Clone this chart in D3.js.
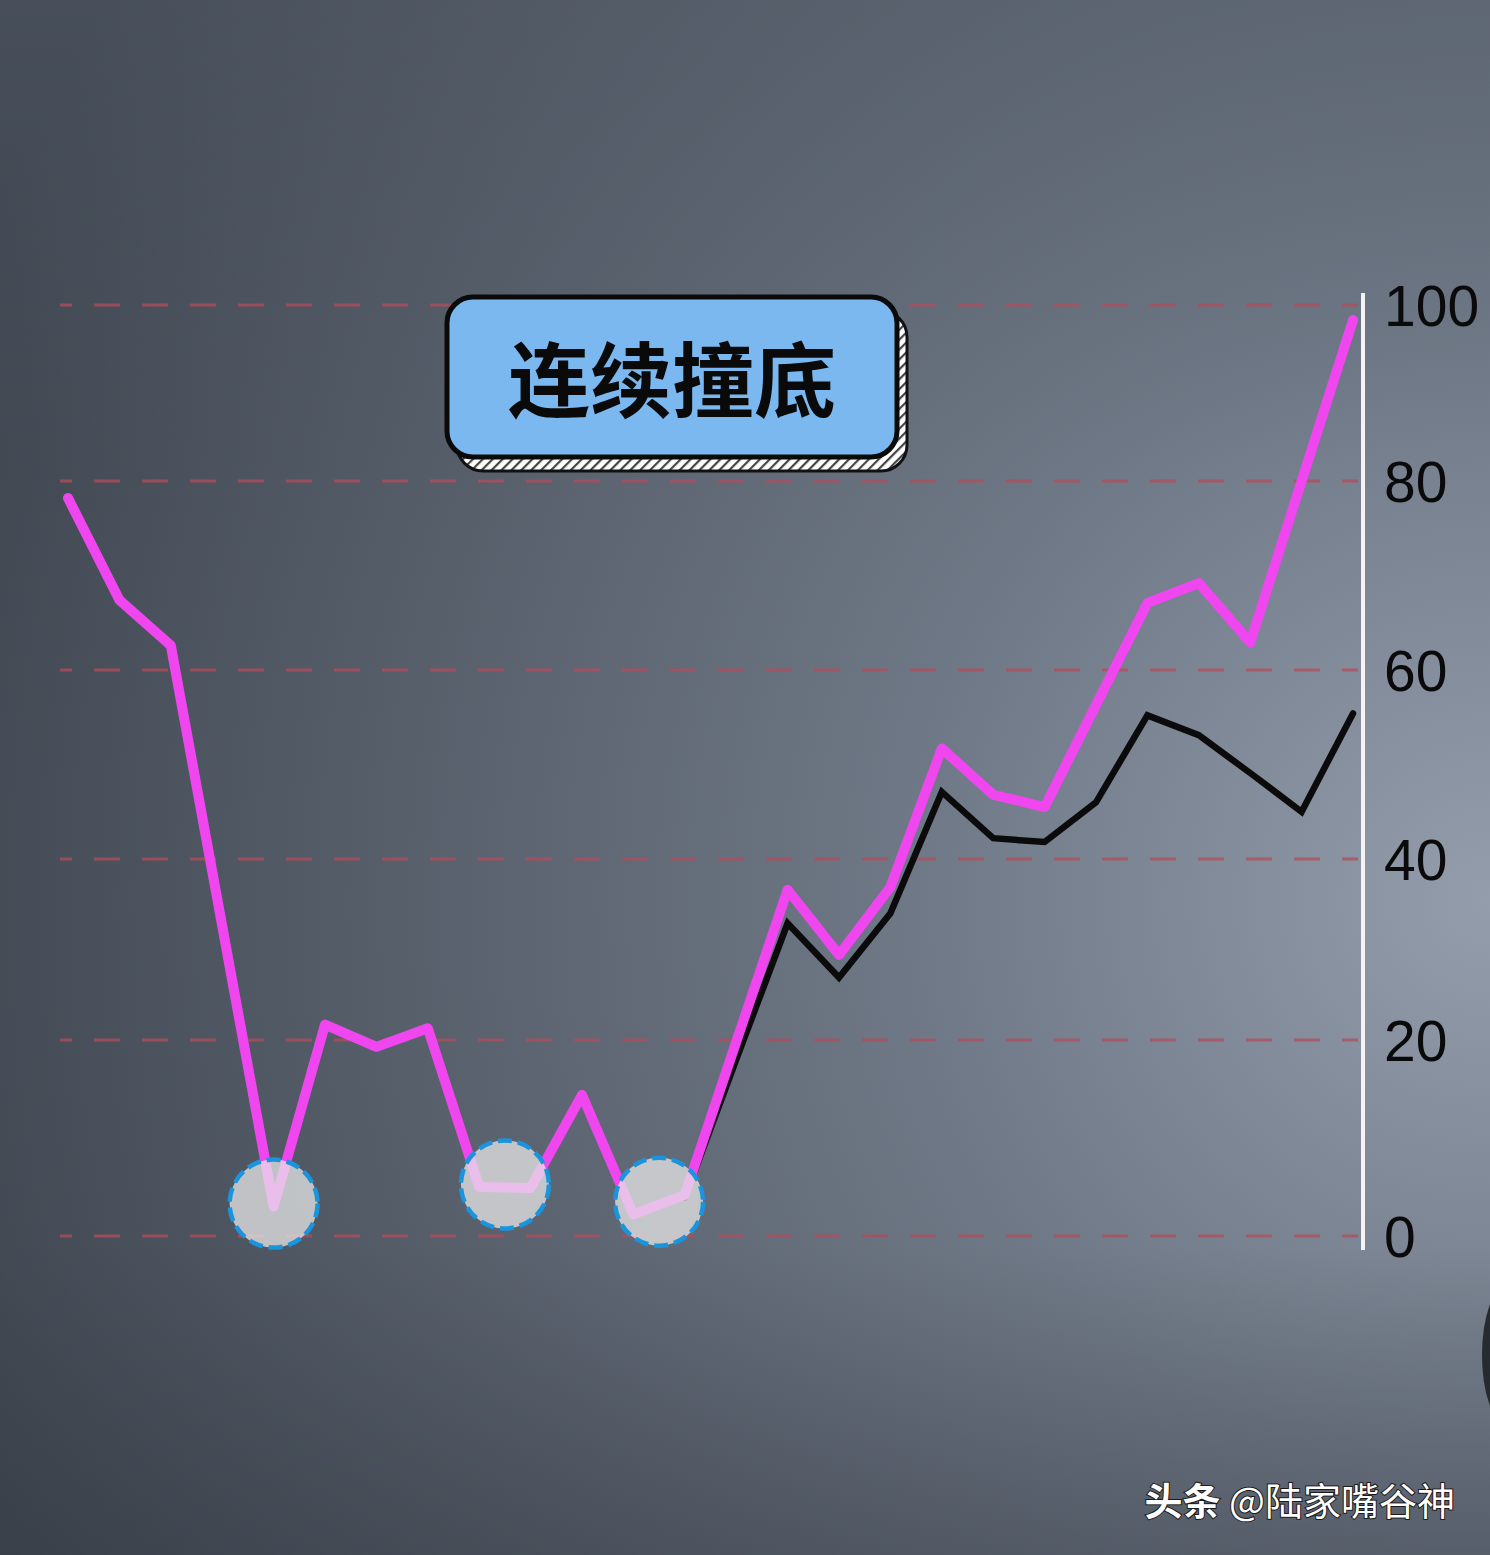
<!DOCTYPE html>
<html>
<head>
<meta charset="utf-8">
<script src="https://cdn.jsdelivr.net/npm/d3@7/dist/d3.min.js"></script>
<style>
  html, body { margin: 0; padding: 0; background: #4a525d; }
  svg { display: block; }
</style>
</head>
<body>
<div id="chart"></div>
<script>
// ---------- data ----------
const titleText = "连续撞底";
const watermarkBold = "头条";
const watermarkText = " @陆家嘴谷神";
const yTicks = [0, 20, 40, 60, 80, 100];
const dayIndex = d3.range(26);
// pink series (index 0..25)
const pinkValues = [78.2, 67.4, 62.6, 32.6, 3.0, 21.7, 19.3, 21.3, 5.0, 4.9, 14.4, 2.2, 4.2,
                    19.8, 36.6, 29.4, 36.9, 51.7, 46.8, 45.5, 56.3, 67.1, 69.2, 62.9, 80.0, 98.3];
// black series starts at index 12
const blackStart = 12;
const blackValues = [3.9, 18.0, 32.9, 26.9, 34.0, 47.1, 42.2, 41.8, 46.0, 55.2, 53.1, 49.1, 45.0, 55.4];
// highlighted bottoms (index ranges)
const bottoms = [[4, 4], [8, 9], [11, 12]];

// ---------- setup ----------
const W = 1490, H = 1555;
const svg = d3.select("#chart").append("svg").attr("width", W).attr("height", H);
const defs = svg.append("defs");

const bg = defs.append("radialGradient").attr("id", "bg")
  .attr("gradientUnits", "userSpaceOnUse")
  .attr("cx", 1490).attr("cy", 900).attr("r", 1650);
bg.append("stop").attr("offset", "0").attr("stop-color", "#939dab");
bg.append("stop").attr("offset", "0.35").attr("stop-color", "#6f7886");
bg.append("stop").attr("offset", "0.75").attr("stop-color", "#505863");
bg.append("stop").attr("offset", "1").attr("stop-color", "#3d444e");
svg.append("rect").attr("width", W).attr("height", H).attr("fill", "url(#bg)");

const topShade = defs.append("linearGradient").attr("id", "topShade")
  .attr("x1", 0).attr("y1", 0).attr("x2", 0).attr("y2", 1);
topShade.append("stop").attr("offset", "0").attr("stop-color", "#5a6370").attr("stop-opacity", 0.35);
topShade.append("stop").attr("offset", "0.3").attr("stop-color", "#5a6370").attr("stop-opacity", 0);
topShade.append("stop").attr("offset", "0.8").attr("stop-color", "#30363f").attr("stop-opacity", 0);
topShade.append("stop").attr("offset", "1").attr("stop-color", "#30363f").attr("stop-opacity", 0.35);
svg.append("rect").attr("width", W).attr("height", H).attr("fill", "url(#topShade)");

// dark silhouette at right edge
svg.append("ellipse").attr("cx", 1506).attr("cy", 1355).attr("rx", 24).attr("ry", 68)
  .attr("fill", "#1e2228").attr("opacity", 0.9);

const hatch = defs.append("pattern").attr("id", "hatch")
  .attr("patternUnits", "userSpaceOnUse").attr("width", 7).attr("height", 7)
  .attr("patternTransform", "rotate(45)");
hatch.append("rect").attr("width", 7).attr("height", 7).attr("fill", "#ffffff");
hatch.append("rect").attr("width", 2.2).attr("height", 7).attr("fill", "#444");

// ---------- scales ----------
const x = d3.scaleLinear().domain([0, 25]).range([68, 1353]);
const y = d3.scaleLinear().domain(yTicks).range([1236, 1040, 859, 670, 481, 305]);

// gridlines
svg.append("g").selectAll("line").data(yTicks).join("line")
  .attr("x1", 60).attr("x2", 1358)
  .attr("y1", d => y(d)).attr("y2", d => y(d))
  .attr("stroke", "#b44c5a").attr("stroke-opacity", 0.75)
  .attr("stroke-width", 3).attr("stroke-dasharray", "26,22").attr("stroke-dashoffset", 14);

// axis
const axisG = svg.append("g").attr("transform", "translate(1363,0)")
  .call(d3.axisRight(y).tickValues(yTicks).tickSize(0).tickPadding(21).tickFormat(d3.format("d")));
axisG.select(".domain").remove();
axisG.selectAll("text").attr("fill", "#0a0a0a").attr("dy", "0.36em")
  .style("font-family", "'Liberation Sans', Arial, sans-serif").style("font-size", "57px");
svg.append("line").attr("x1", 1363).attr("x2", 1363)
  .attr("y1", y(100) - 12).attr("y2", y(0) + 14)
  .attr("stroke", "#f4f4f4").attr("stroke-width", 4);

// title box
const bx = 447, by = 297, bw = 450, bh = 160;
svg.append("rect").attr("x", bx + 10).attr("y", by + 14).attr("width", bw).attr("height", bh)
  .attr("rx", 26).attr("fill", "url(#hatch)").attr("stroke", "#111").attr("stroke-width", 3);
svg.append("rect").attr("x", bx).attr("y", by).attr("width", bw).attr("height", bh)
  .attr("rx", 26).attr("fill", "#7bb8f0").attr("stroke", "#0a0a0a").attr("stroke-width", 5);
svg.append("text").attr("x", bx + bw / 2).attr("y", by + 78)
  .attr("text-anchor", "middle").attr("dominant-baseline", "central")
  .style("font-family", "'Noto Sans CJK SC', sans-serif").style("font-weight", 700)
  .style("font-size", "82px").attr("fill", "#0a0a0a").text(titleText);

// lines
const line = d3.line().x(d => x(d.i)).y(d => y(d.v)).curve(d3.curveLinear);
const pinkData = pinkValues.map((v, i) => ({ i: dayIndex[i], v }));
const blackData = blackValues.map((v, k) => ({ i: dayIndex[blackStart + k], v }));

svg.append("path").datum(blackData).attr("d", line)
  .attr("fill", "none").attr("stroke", "#0b0b0b").attr("stroke-width", 6.5)
  .attr("stroke-linejoin", "miter").attr("stroke-linecap", "round");
svg.append("path").datum(pinkData).attr("d", line)
  .attr("fill", "none").attr("stroke", "#f046f0").attr("stroke-width", 10)
  .attr("stroke-linejoin", "round").attr("stroke-linecap", "round");

// bottom circles
svg.append("g").selectAll("circle").data(bottoms).join("circle")
  .attr("cx", d => d3.mean(d3.range(d[0], d[1] + 1), i => x(i)))
  .attr("cy", d => d3.mean(d3.range(d[0], d[1] + 1), i => y(pinkValues[i])) - 3)
  .attr("r", 44)
  .attr("fill", "#e8e8e8").attr("fill-opacity", 0.74)
  .attr("stroke", "#1a94dc").attr("stroke-width", 4.5).attr("stroke-dasharray", "14,6");

// watermark
const wm = svg.append("text").attr("x", 1455).attr("y", 1515).attr("text-anchor", "end")
  .style("font-family", "'Noto Sans CJK SC', sans-serif").style("font-size", "38px")
  .attr("fill", "#ffffff").attr("stroke", "#1a1a1a").attr("stroke-width", 2).attr("paint-order", "stroke");
wm.append("tspan").style("font-weight", 700).text(watermarkBold);
wm.append("tspan").style("font-weight", 400).text(watermarkText);
</script>
</body>
</html>
